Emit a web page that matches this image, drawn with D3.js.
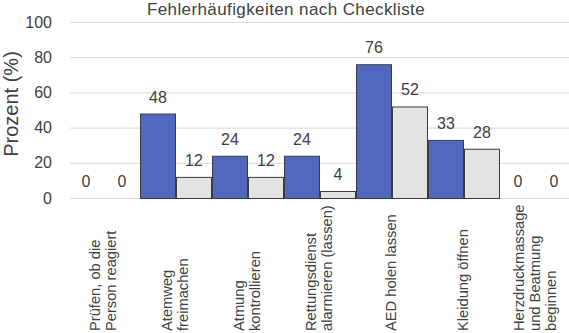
<!DOCTYPE html>
<html><head><meta charset="utf-8">
<script src="https://cdn.jsdelivr.net/npm/d3@7"></script>
<style>body{margin:0;background:#fff}svg{display:block;font-family:"Liberation Sans",Arial,sans-serif}</style>
</head><body>
<svg id="c" width="569" height="333"></svg>
<script>
const categories = [
  ["Prüfen, ob die","Person reagiert"],
  ["Atemweg","freimachen"],
  ["Atmung","kontrollieren"],
  ["Rettungsdienst","alarmieren (lassen)"],
  ["AED holen lassen"],
  ["Kleidung öffnen"],
  ["Herzdruckmassage","und Beatmung","beginnen"]
];
const seriesA = [0, 48, 24, 24, 76, 33, 0];
const seriesB = [0, 12, 12, 4, 52, 28, 0];
const yTicks = [0, 20, 40, 60, 80, 100];
const title = "Fehlerhäufigkeiten nach Checkliste";
const yTitle = "Prozent (%)";

const svg = d3.select("#c");
const x = d3.scaleBand().domain(d3.range(categories.length)).range([68, 572]).padding(0);
const xs = d3.scaleBand().domain([0,1]).range([0, x.bandwidth()]).padding(0);
const y = d3.scaleLinear().domain([0, 100]).range([198, 22]);
const txt = "#404040";

// gridlines
svg.append("g").selectAll("line").data(yTicks).join("line")
  .attr("x1", 70).attr("x2", 569)
  .attr("y1", d => y(d) + 0.5).attr("y2", d => y(d) + 0.5)
  .attr("stroke", "#d9d9d9").attr("stroke-width", 1);

// y axis labels
const yAxis = d3.axisLeft(y).tickValues(yTicks).tickSize(0).tickPadding(0);
const ga = svg.append("g").attr("transform", "translate(52,0)").call(yAxis);
ga.select(".domain").remove();
ga.selectAll("text").attr("font-size", 16).attr("fill", txt).attr("font-family", "Liberation Sans, Arial, sans-serif");

const series = [seriesA, seriesB];
const fills = ["#5069be", "#e3e3e3"];
series.forEach((vals, si) => {
  const g = svg.append("g");
  g.selectAll("rect").data(vals).join("rect")
    .attr("x", (d, i) => x(i) + xs(si) + 0.5)
    .attr("y", d => y(d) + 0.5)
    .attr("width", xs.bandwidth() - 1)
    .attr("height", d => Math.max(0, y(0) - y(d)))
    .attr("fill", fills[si])
    .attr("stroke", d => d > 0 ? "#3c3c3c" : "none")
    .attr("stroke-width", 1);
  g.selectAll("text").data(vals).join("text")
    .attr("x", (d, i) => x(i) + xs(si) + xs.bandwidth() / 2)
    .attr("y", d => y(d) - 11)
    .attr("text-anchor", "middle")
    .attr("font-size", 16).attr("fill", txt)
    .text(d => d);
});

// category labels
const cl = svg.append("g");
categories.forEach((lines, i) => {
  const cx = x(i) + x.bandwidth() / 2;
  const t = cl.append("text")
    .attr("transform", `translate(${cx},331) rotate(-90)`)
    .attr("font-size", 14.7).attr("fill", txt).attr("text-anchor", "start");
  lines.forEach((ln, j) => {
    t.append("tspan").attr("x", 0)
      .attr("y", (j - (lines.length - 1) / 2) * 16 + 4)
      .text(ln);
  });
});

// title
svg.append("text").attr("x", 286).attr("y", 15).attr("text-anchor", "middle")
  .attr("font-size", 17).attr("letter-spacing", 0.4).attr("fill", txt).text(title);

// y title
svg.append("text").attr("transform", "translate(18,104) rotate(-90)")
  .attr("text-anchor", "middle").attr("font-size", 20).attr("fill", txt).text(yTitle);
</script>
</body></html>
